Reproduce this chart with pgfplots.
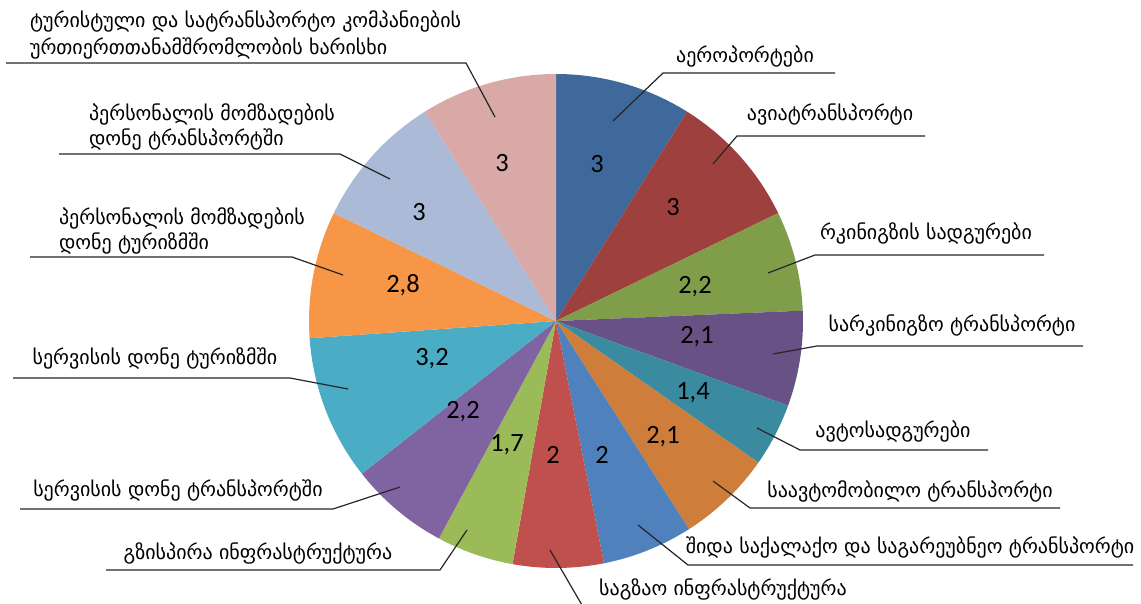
\documentclass[border=0pt]{standalone}
\usepackage{fontspec}
\usepackage{pgfplots}
\usepackage{pgfplotstable}
\pgfplotsset{compat=1.18}
\setmainfont{DejaVu Sans}
\newfontfamily\numfont{Carlito}
\definecolor{c0}{RGB}{64,105,155}
\definecolor{c1}{RGB}{158,64,61}
\definecolor{c2}{RGB}{128,158,73}
\definecolor{c3}{RGB}{104,81,132}
\definecolor{c4}{RGB}{59,139,160}
\definecolor{c5}{RGB}{206,125,58}
\definecolor{c6}{RGB}{79,129,189}
\definecolor{c7}{RGB}{192,80,77}
\definecolor{c8}{RGB}{155,187,89}
\definecolor{c9}{RGB}{128,100,162}
\definecolor{c10}{RGB}{75,172,198}
\definecolor{c11}{RGB}{247,150,70}
\definecolor{c12}{RGB}{170,186,215}
\definecolor{c13}{RGB}{217,169,168}
% slice values, clockwise from 12 o'clock
\pgfplotstableread{
idx value
0 3
1 3
2 2.2
3 2.1
4 1.4
5 2.1
6 2
7 2
8 1.7
9 2.2
10 3.2
11 2.8
12 3
13 3
}\piedata
\def\cum{0}%
\pgfplotsforeachungrouped \i in {0,...,13}{%
  \pgfplotstablegetelem{\i}{value}\of\piedata
  \pgfmathsetmacro\cum{\cum+\pgfplotsretval}%
}%
\let\total\cum
\def\cum{0}%
\pgfplotsforeachungrouped \i in {0,...,13}{%
  \pgfplotstablegetelem{\i}{value}\of\piedata
  \pgfmathsetmacro\sa{90-\cum*360/\total}%
  \pgfmathsetmacro\cum{\cum+\pgfplotsretval}%
  \pgfmathsetmacro\ea{90-\cum*360/\total}%
  \expandafter\xdef\csname sa\i\endcsname{\sa}%
  \expandafter\xdef\csname ea\i\endcsname{\ea}%
}%
\newcommand\lbl{\fontsize{10}{13}\selectfont}
\newcommand\num{\numfont\fontsize{13.2}{15}\selectfont}
\begin{document}
\begin{tikzpicture}
\begin{axis}[name=ax, hide axis, scale only axis, width=570.5pt, height=302pt,
  xmin=0, xmax=1141, ymin=0, ymax=604, y dir=reverse, clip=true]
\pgfplotsinvokeforeach{0,...,13}{%
  \fill[c#1] (axis cs:556,321) -- ++(\csname sa#1\endcsname:123.5pt)
    arc[start angle=\csname sa#1\endcsname, end angle=\csname ea#1\endcsname, radius=123.5pt] -- cycle;
}
% value labels
\node[font=\num] at (axis cs:597,164) {3};
\node[font=\num] at (axis cs:673,207) {3};
\node[font=\num] at (axis cs:695,287) {2,2};
\node[font=\num] at (axis cs:697,337) {2,1};
\node[font=\num] at (axis cs:693,393) {1,4};
\node[font=\num] at (axis cs:663,437) {2,1};
\node[font=\num] at (axis cs:602,455) {2};
\node[font=\num] at (axis cs:553,455) {2};
\node[font=\num] at (axis cs:507,445) {1,7};
\node[font=\num] at (axis cs:463,412) {2,2};
\node[font=\num] at (axis cs:432,359) {3,2};
\node[font=\num] at (axis cs:403,285) {2,8};
\node[font=\num] at (axis cs:419,212) {3};
\node[font=\num] at (axis cs:502,163) {3};
% leader lines
\begin{scope}[line width=0.6pt, black!85]
\draw (axis cs:835,73) -- (axis cs:663,73) -- (axis cs:613,121);
\draw (axis cs:925,136) -- (axis cs:737,136) -- (axis cs:713,164);
\draw (axis cs:1044,255) -- (axis cs:815,255) -- (axis cs:768,273);
\draw (axis cs:1083,346) -- (axis cs:817,346) -- (axis cs:773,354);
\draw (axis cs:988,450) -- (axis cs:800,450) -- (axis cs:757,428);
\draw (axis cs:1060,508) -- (axis cs:750,508) -- (axis cs:713,481);
\draw (axis cs:1133,565) -- (axis cs:688,565) -- (axis cs:638,525);
\draw (axis cs:550,550) -- (axis cs:586,612);
\draw (axis cs:106,570) -- (axis cs:440,570) -- (axis cs:467,530);
\draw (axis cs:20,509) -- (axis cs:333,509) -- (axis cs:400,487);
\draw (axis cs:13,378) -- (axis cs:290,378) -- (axis cs:348,389);
\draw (axis cs:30,257) -- (axis cs:292,257) -- (axis cs:343,275);
\draw (axis cs:59,154) -- (axis cs:340,154) -- (axis cs:390,179);
\draw (axis cs:6,63) -- (axis cs:466,63) -- (axis cs:495,117);
\end{scope}
% category labels
\node[font=\lbl] at (axis cs:745,56) {აეროპორტები};
\node[font=\lbl] at (axis cs:830,115) {ავიატრანსპორტი};
\node[font=\lbl] at (axis cs:926,233) {რკინიგზის სადგურები};
\node[font=\lbl] at (axis cs:952,325) {სარკინიგზო ტრანსპორტი};
\node[font=\lbl] at (axis cs:893,431) {ავტოსადგურები};
\node[font=\lbl] at (axis cs:910,491) {საავტომობილო ტრანსპორტი};
\node[font=\lbl] at (axis cs:910,547) {შიდა საქალაქო და საგარეუბნეო ტრანსპორტი};
\node[font=\lbl] at (axis cs:723,589) {საგზაო ინფრასტრუქტურა};
\node[font=\lbl] at (axis cs:258,553) {გზისპირა ინფრასტრუქტურა};
\node[font=\lbl] at (axis cs:178,490) {სერვისის დონე ტრანსპორტში};
\node[font=\lbl] at (axis cs:155,358) {სერვისის დონე ტურიზმში};
\node[font=\lbl, anchor=west] at (axis cs:52,218) {პერსონალის მომზადების};
\node[font=\lbl, anchor=west] at (axis cs:52,243) {დონე ტურიზმში};
\node[font=\lbl, anchor=west] at (axis cs:82,114) {პერსონალის მომზადების};
\node[font=\lbl, anchor=west] at (axis cs:82,139) {დონე ტრანსპორტში};
\node[font=\lbl, anchor=west] at (axis cs:23,21) {ტურისტული და სატრანსპორტო კომპანიების};
\node[font=\lbl, anchor=west] at (axis cs:23,48) {ურთიერთთანამშრომლობის ხარისხი};
\end{axis}
\pgfresetboundingbox
\useasboundingbox (ax.south west) rectangle (ax.north east);
\end{tikzpicture}
\end{document}
